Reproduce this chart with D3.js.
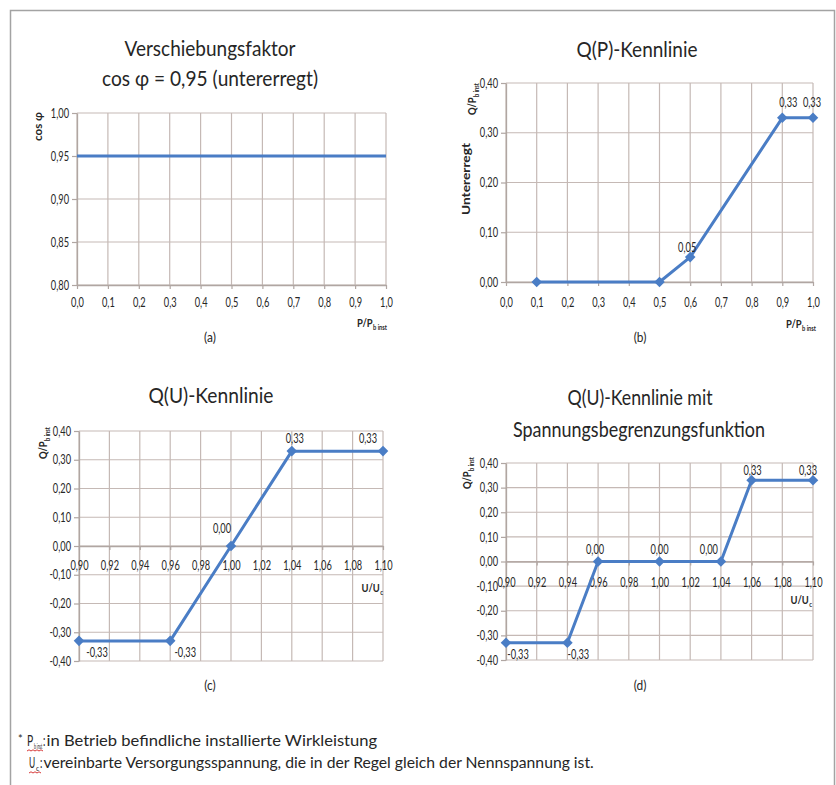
<!DOCTYPE html>
<html>
<head>
<meta charset="utf-8">
<script src="https://cdn.jsdelivr.net/npm/d3@7"></script>
<style>
  html, body { margin: 0; padding: 0; background: #fff; }
  svg { display: block; }
  text { font-family: Lato, "Open Sans", sans-serif; fill: #262626; }
</style>
</head>
<body>
<svg id="chart" width="836" height="785"></svg>
<script>
// ---- (a) Verschiebungsfaktor: cos φ over P/Pb inst
const cosPhiX = [0.0, 1.0];
const cosPhiY = [0.95, 0.95];
const cosPhiTicksX = [0.0, 0.1, 0.2, 0.3, 0.4, 0.5, 0.6, 0.7, 0.8, 0.9, 1.0];
const cosPhiTicksY = [0.80, 0.85, 0.90, 0.95, 1.00];

// ---- (b) Q(P) characteristic
const qpX = [0.1, 0.5, 0.6, 0.9, 1.0];
const qpY = [0.00, 0.00, 0.05, 0.33, 0.33];
const qpTicksX = [0.0, 0.1, 0.2, 0.3, 0.4, 0.5, 0.6, 0.7, 0.8, 0.9, 1.0];
const qpTicksY = [0.00, 0.10, 0.20, 0.30, 0.40];

// ---- (c) Q(U) characteristic
const quX = [0.90, 0.96, 1.00, 1.04, 1.10];
const quY = [-0.33, -0.33, 0.00, 0.33, 0.33];
const quTicksX = [0.90, 0.92, 0.94, 0.96, 0.98, 1.00, 1.02, 1.04, 1.06, 1.08, 1.10];
const quTicksY = [-0.40, -0.30, -0.20, -0.10, 0.00, 0.10, 0.20, 0.30, 0.40];

// ---- (d) Q(U) characteristic with voltage limitation
const qulX = [0.90, 0.94, 0.96, 1.00, 1.04, 1.06, 1.10];
const qulY = [-0.33, -0.33, 0.00, 0.00, 0.00, 0.33, 0.33];
const qulTicksX = [0.90, 0.92, 0.94, 0.96, 0.98, 1.00, 1.02, 1.04, 1.06, 1.08, 1.10];
const qulTicksY = [-0.40, -0.30, -0.20, -0.10, 0.00, 0.10, 0.20, 0.30, 0.40];

// ---- styling
const GRID = "#c5b9b5";
const AXIS = "#b0a6a2";
const LINE = "#4a7dc5";
const TICK_TEXT = "#333333";

const de = d3.formatLocale({ decimal: ",", thousands: ".", grouping: [3], currency: ["", " €"], minus: "-" });
const f1 = de.format(".1f");
const f2 = de.format(".2f");

const svg = d3.select("#chart");

// outer frame
svg.append("path")
  .attr("d", "M10.5,785 V10.5 H834.5 V785")
  .attr("fill", "none").attr("stroke", "#a3a3a3").attr("stroke-width", 1.5);

// horizontally condense a text element to a share of its natural width
function squeeze(sel, k) {
  sel.each(function () {
    const w = this.getComputedTextLength();
    if (w > 0) {
      this.setAttribute("textLength", (w * k).toFixed(2));
      this.setAttribute("lengthAdjust", "spacingAndGlyphs");
    }
  });
}
function fitWidth(sel, w) {
  sel.attr("textLength", w).attr("lengthAdjust", "spacingAndGlyphs");
}

function titleLine(txt, cx, baseline, width) {
  svg.append("text").attr("x", cx).attr("y", baseline)
    .attr("text-anchor", "middle").attr("font-size", 21.5).attr("fill", "#1e1e1e")
    .text(txt).call(fitWidth, width);
}

function panelLetter(txt, cx, baseline) {
  svg.append("text").attr("x", cx).attr("y", baseline)
    .attr("text-anchor", "middle").attr("font-size", 14).attr("fill", "#2a2a2a")
    .text(txt).call(squeeze, 0.85);
}

// rotated bold axis title ending at (x, yTop); either with a subscript or stretched to a length
function yTitle(x, yTop, main, sub, len) {
  const k = len ? 1 : 0.82;
  const g = svg.append("g").attr("transform", `translate(${x},${yTop}) rotate(-90) scale(${k},1)`);
  const t = g.append("text").attr("text-anchor", "end").attr("font-size", 11.5)
    .attr("font-weight", 700).attr("fill", "#1e1e1e").attr("dy", "0.35em");
  t.append("tspan").text(main);
  if (sub) t.append("tspan").attr("font-size", 7).attr("dy", 2.5).attr("dx", 0.5).text(sub);
  if (len) t.call(fitWidth, len);
}

// bold x axis title with subscript, right end at (xEnd, y)
function xTitle(xEnd, y, main, sub) {
  const g = svg.append("g").attr("transform", `translate(${xEnd},${y}) scale(0.82,1)`);
  const t = g.append("text").attr("text-anchor", "end").attr("font-size", 11.5)
    .attr("font-weight", 700).attr("fill", "#1e1e1e").attr("dy", "0.35em");
  t.append("tspan").text(main);
  t.append("tspan").attr("font-size", 7).attr("dy", 2.5).attr("dx", 0.5).text(sub);
}

function panel(cfg) {
  const g = svg.append("g");
  const x = d3.scaleLinear().domain(cfg.xDomain).range([cfg.left, cfg.right]);
  const y = d3.scaleLinear().domain(cfg.yDomain).range([cfg.bottom, cfg.top]);

  // grid
  g.append("g").selectAll("line").data(cfg.xTicks).join("line")
    .attr("x1", d => x(d)).attr("x2", d => x(d))
    .attr("y1", cfg.top).attr("y2", cfg.bottom)
    .attr("stroke", GRID).attr("stroke-width", 1.2);
  g.append("g").selectAll("line").data(cfg.yTicks).join("line")
    .attr("y1", d => y(d)).attr("y2", d => y(d))
    .attr("x1", cfg.left).attr("x2", cfg.right)
    .attr("stroke", GRID).attr("stroke-width", 1.2);

  // y axis
  const ya = g.append("g").attr("transform", `translate(${cfg.left},0)`)
    .call(d3.axisLeft(y).tickValues(cfg.yTicks).tickFormat(f2).tickSize(5).tickSizeOuter(0).tickPadding(3));
  // x axis
  const xa = g.append("g").attr("transform", `translate(0,${y(cfg.xAxisAt)})`)
    .call(d3.axisBottom(x).tickValues(cfg.xTicks).tickFormat(cfg.xFormat).tickSize(4).tickSizeOuter(0).tickPadding(cfg.xPad));

  [ya, xa].forEach(a => {
    a.select(".domain").attr("stroke", AXIS).attr("stroke-width", 1.3);
    a.selectAll(".tick line").attr("stroke", AXIS).attr("stroke-width", 1.2);
    a.selectAll(".tick text").attr("font-family", "Lato, sans-serif").attr("font-size", 13.2)
      .attr("fill", TICK_TEXT).call(squeeze, 0.7);
  });

  // series line
  const pts = cfg.xs.map((v, i) => [v, cfg.ys[i]]);
  g.append("path").datum(pts)
    .attr("d", d3.line().x(d => x(d[0])).y(d => y(d[1])))
    .attr("fill", "none").attr("stroke", LINE).attr("stroke-width", 3).attr("stroke-linejoin", "round");

  if (cfg.markers) {
    g.append("g").selectAll("path").data(pts).join("path")
      .attr("d", d3.symbol(d3.symbolSquare, 56))
      .attr("transform", d => `translate(${x(d[0])},${y(d[1])}) rotate(45)`)
      .attr("fill", LINE);
  }

  if (cfg.labelOffsets) {
    g.append("g").selectAll("text").data(pts.map((p, i) => [p, cfg.labelOffsets[i]]).filter(d => d[1]))
      .join("text")
      .attr("x", d => x(d[0][0]) + d[1][0])
      .attr("y", d => y(d[0][1]) + d[1][1])
      .attr("dy", "0.35em").attr("text-anchor", "middle")
      .attr("font-size", 13.2).attr("fill", TICK_TEXT)
      .text(d => f2(d[0][1]))
      .call(squeeze, 0.7);
  }
}

// (a)
titleLine("Verschiebungsfaktor", 210, 56, 171);
titleLine("cos φ = 0,95 (untererregt)", 210, 86, 216);
panel({
  xs: cosPhiX, ys: cosPhiY, xTicks: cosPhiTicksX, yTicks: cosPhiTicksY,
  xDomain: [0, 1], yDomain: [0.80, 1.00], left: 77, right: 386, top: 113, bottom: 285,
  xAxisAt: 0.80, xFormat: f1, xPad: 9, markers: false
});
yTitle(38, 112, "cos φ", null, 29);
xTitle(387, 323, "P/P", "b inst");
panelLetter("(a)", 210, 342);

// (b)
titleLine("Q(P)-Kennlinie", 637, 57, 121);
panel({
  xs: qpX, ys: qpY, xTicks: qpTicksX, yTicks: qpTicksY,
  xDomain: [0, 1], yDomain: [0, 0.40], left: 506, right: 813, top: 83, bottom: 282,
  xAxisAt: 0, xFormat: f1, xPad: 12, markers: true,
  labelOffsets: [null, null, [-3, -10], [6, -15], [-1, -15]]
});
yTitle(472, 83, "Q/P", "b inst");
yTitle(466, 143, "Untererregt", null, 72);
xTitle(816, 324, "P/P", "b inst");
panelLetter("(b)", 640, 342);

// (c)
titleLine("Q(U)-Kennlinie", 211, 403, 125);
panel({
  xs: quX, ys: quY, xTicks: quTicksX, yTicks: quTicksY,
  xDomain: [0.90, 1.10], yDomain: [-0.40, 0.40], left: 79, right: 383, top: 431, bottom: 661,
  xAxisAt: 0, xFormat: f2, xPad: 11, markers: true,
  labelOffsets: [[18, 12], [15, 12], [-9, -18], [3, -13], [-15, -13]]
});
yTitle(43, 427, "Q/P", "b inst");
xTitle(383, 588, "U/U", "c");
panelLetter("(c)", 210, 690);

// (d)
titleLine("Q(U)-Kennlinie mit", 640, 405, 145);
titleLine("Spannungsbegrenzungsfunktion", 639, 437, 252);
panel({
  xs: qulX, ys: qulY, xTicks: qulTicksX, yTicks: qulTicksY,
  xDomain: [0.90, 1.10], yDomain: [-0.40, 0.40], left: 506, right: 813, top: 463, bottom: 660,
  xAxisAt: 0, xFormat: f2, xPad: 12, markers: true,
  labelOffsets: [[12, 12], [11, 12], [-3, -12], [0, -12], [-12, -12], [1, -10], [-5, -10]]
});
yTitle(467, 457, "Q/P", "b inst");
xTitle(812, 600, "U/U", "c");
panelLetter("(d)", 640, 690);

// footnotes
const foot = svg.append("g").attr("fill", "#262626");
function squiggle(x0, x1, yb) {
  let d = `M${x0},${yb}`;
  for (let xx = x0, up = true; xx < x1; xx += 2, up = !up) d += ` L${xx + 2},${yb + (up ? -1.2 : 0)}`;
  foot.append("path").attr("d", d).attr("fill", "none").attr("stroke", "#d83a3a").attr("stroke-width", 1);
}
// a short text piece condensed to a given width by a horizontal scale
function piece(x, y, size, txt, width) {
  const g = foot.append("g").attr("transform", `translate(${x},${y})`);
  const t = g.append("text").attr("font-size", size).text(txt);
  if (width) {
    const w = t.node().getComputedTextLength();
    g.attr("transform", `translate(${x},${y}) scale(${width / w},1)`);
  }
}
piece(18, 743, 11, "*");
piece(27, 746, 14.5, "P", 6.2);
piece(34, 749, 7.5, "b inst", 8.3);
piece(43, 746, 14.5, ":", 2.4);
piece(46.5, 746, 14.5, "in Betrieb befindliche installierte Wirkleistung", 331);
squiggle(27, 43, 751);

piece(29, 768, 14.5, "U", 6.2);
piece(36, 771, 8, "c", 3.2);
piece(40, 768, 14.5, ":", 2.4);
piece(43.5, 768, 14.5, "vereinbarte Versorgungsspannung, die in der Regel gleich der Nennspannung ist.", 551);
squiggle(29, 40, 773);
</script>
</body>
</html>
